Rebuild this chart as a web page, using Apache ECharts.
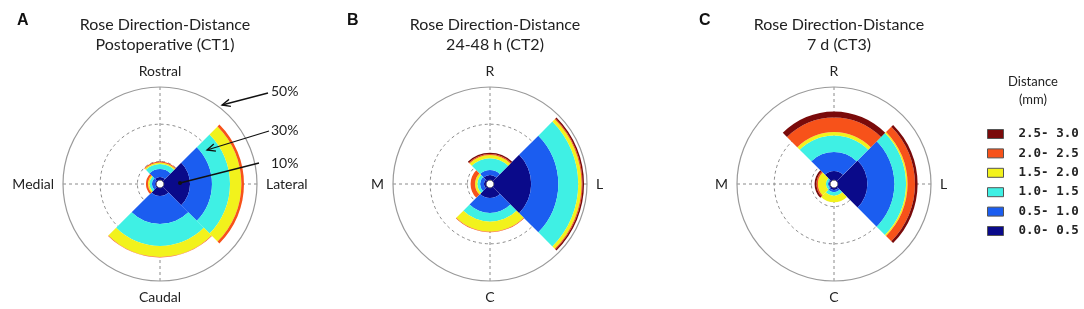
<!DOCTYPE html>
<html>
<head>
<meta charset="utf-8">
<script src="https://cdn.jsdelivr.net/npm/echarts@6/dist/echarts.min.js"></script>
<style>
  html, body { margin: 0; padding: 0; background: #fff; }
  #chart { width: 1084px; height: 309px; }
</style>
</head>
<body>
<div id="chart"></div>
<script>
// distance bins (mm), inner to outer
const bins = ['0.0- 0.5', '0.5- 1.0', '1.0- 1.5', '1.5- 2.0', '2.0- 2.5', '2.5- 3.0'];
const binColors = ['#0a0a8a', '#1b5df0', '#3ff0e4', '#f2f21c', '#f7521a', '#7a0a0a'];

// directions, clockwise from the lateral sector
const dirsLong = ['Lateral', 'Caudal', 'Medial', 'Rostral'];
const dirsShort = ['L', 'C', 'M', 'R'];

// % of contacts per bin, values in order L, C, M, R
const ct1 = [
  [14.0, 4.3, 0.5, 1.6],
  [11.8, 15.1, 1.7, 4.3],
  [9.7, 11.8, 1.3, 2.7],
  [6.1, 5.9, 0.8, 0.8],
  [1.4, 0.2, 1.1, 0.5],
  [0, 0, 0, 0]
];
const ct2 = [
  [20.0, 5.4, 1.1, 2.7],
  [14.6, 8.0, 2.1, 2.7],
  [10.7, 4.7, 1.4, 6.3],
  [1.8, 5.4, 1.3, 1.7],
  [0.5, 0.3, 2.4, 0.6],
  [0.8, 0, 0, 0.7]
];
const ct3 = [
  [15.8, 1.1, 0.5, 4.8],
  [14.5, 1.2, 0.6, 10.3],
  [6.3, 1.8, 1.1, 8.8],
  [0.8, 3.6, 4.3, 1.9],
  [4.0, 0, 0.8, 7.8],
  [1.4, 0, 1.0, 3.2]
];

const rings = ['50%', '30%', '10%'];

const panels = [
  { letter: 'A', title: 'Rose Direction-Distance\nPostoperative (CT1)', dirs: dirsLong, data: ct1, cx: 160, lx: 12 },
  { letter: 'B', title: 'Rose Direction-Distance\n24-48 h (CT2)', dirs: dirsShort, data: ct2, cx: 490, lx: 342 },
  { letter: 'C', title: 'Rose Direction-Distance\n7 d (CT3)', dirs: dirsShort, data: ct3, cx: 834, lx: 694 }
];

const cy = 184;
const R = [4, 97];
const clear = 'rgba(0,0,0,0)';
const textFont = 'Lato, "Open Sans", sans-serif';

const polar = [], angleAxis = [], radiusAxis = [], series = [], title = [];

panels.forEach(function (p, i) {
  // polar i: bars, polar i+3: grid (cross + rings)
  polar.push({ center: [p.cx, cy], radius: R });
  angleAxis.push({
    polarIndex: i,
    type: 'category',
    data: p.dirs,
    startAngle: 45,
    axisLine: { show: false },
    axisTick: { show: false },
    splitLine: { show: false },
    axisLabel: { margin: 9, color: '#222', fontSize: 14, fontFamily: textFont }
  });
  radiusAxis.push({
    polarIndex: i,
    type: 'value', min: 0, max: 50, interval: 10,
    axisLine: { show: false }, axisTick: { show: false }, axisLabel: { show: false },
    splitLine: { show: true, lineStyle: { color: ['#222', clear, clear, clear, clear, clear], width: 1 } }
  });

  p.data.forEach(function (vals, b) {
    series.push({
      type: 'bar',
      name: bins[b],
      coordinateSystem: 'polar',
      polarIndex: i,
      stack: 'rose' + i,
      barCategoryGap: '0%',
      data: vals,
      itemStyle: { color: binColors[b] },
      emphasis: { disabled: true },
      z: 2
    });
  });

  title.push({
    text: p.title, left: p.cx, top: 10, textAlign: 'center',
    textStyle: { fontFamily: textFont, fontSize: 16, fontWeight: 'normal', color: '#222', lineHeight: 20 }
  });
  title.push({
    text: p.letter, left: p.lx, top: 8,
    textStyle: { fontFamily: 'Liberation Sans, Arial, sans-serif', fontSize: 16, fontWeight: 'bold', color: '#111' }
  });
});

panels.forEach(function (p, i) {
  polar.push({ center: [p.cx, cy], radius: R });
  angleAxis.push({
    polarIndex: i + 3,
    type: 'value', min: 0, max: 360, interval: 90, startAngle: 0,
    axisLine: { show: true, lineStyle: { color: '#9a9a9a', width: 1.2 } },
    axisTick: { show: false }, axisLabel: { show: false },
    splitLine: { show: true, lineStyle: { color: '#8a8a8a', type: [3, 3], width: 1 } },
    z: 1
  });
  radiusAxis.push({
    polarIndex: i + 3,
    type: 'value', min: 0, max: 50, interval: 10,
    axisLine: { show: false }, axisTick: { show: false }, axisLabel: { show: false },
    splitLine: { show: true, lineStyle: { color: [clear, '#8a8a8a', clear, '#8a8a8a', clear, clear], type: [3, 3], width: 1 } },
    z: 1
  });
});

title.push({
  text: 'Distance\n(mm)', left: 1028, top: 68, textAlign: 'center',
  textStyle: { fontFamily: textFont, fontSize: 13, fontWeight: 'normal', color: '#222', lineHeight: 18 }
});

// arrow annotations on panel A
function arrowHead(tip, tail) {
  const a = Math.atan2(tail[1] - tip[1], tail[0] - tip[0]);
  const L = 9, s = 0.42;
  return [
    [tip[0] + L * Math.cos(a + s), tip[1] + L * Math.sin(a + s)],
    tip,
    [tip[0] + L * Math.cos(a - s), tip[1] + L * Math.sin(a - s)]
  ];
}
const annot = [
  { tail: [268, 93], tip: [222, 105], ty: 91 },
  { tail: [269, 131], tip: [207, 150], ty: 130 },
  { tail: [259, 163], tip: [180, 183], ty: 163 }
];
const graphic = [];
annot.forEach(function (a, k) {
  graphic.push({ type: 'polyline', shape: { points: [a.tail, a.tip] }, style: { stroke: '#111', lineWidth: 1.3, fill: null }, z: 10 });
  if (k < 2) {
    graphic.push({ type: 'polyline', shape: { points: arrowHead(a.tip, a.tail) }, style: { stroke: '#111', lineWidth: 1.3, fill: null }, z: 10 });
  } else {
    graphic.push({ type: 'circle', shape: { cx: a.tip[0], cy: a.tip[1], r: 2 }, style: { fill: '#111' }, z: 10 });
  }
  graphic.push({
    type: 'text', x: 271, y: a.ty, z: 10,
    style: { text: rings[k], font: '14px ' + textFont, fill: '#222', verticalAlign: 'middle' }
  });
});

const chart = echarts.init(document.getElementById('chart'), null, { renderer: 'canvas' });
chart.setOption({
  animation: false,
  backgroundColor: '#fff',
  title: title,
  polar: polar,
  angleAxis: angleAxis,
  radiusAxis: radiusAxis,
  legend: {
    data: bins.slice().reverse(),
    orient: 'vertical',
    left: 982, top: 122,
    itemWidth: 16, itemHeight: 9,
    itemGap: 5.4,
    icon: 'rect',
    selectedMode: false,
    itemStyle: { borderColor: '#555', borderWidth: 1 },
    textStyle: {
      fontFamily: '"DejaVu Sans Mono", "Liberation Mono", monospace',
      fontSize: 12.5, fontWeight: 'bold', color: '#222', lineHeight: 14,
      padding: [0, 0, 0, 10]
    }
  },
  graphic: graphic,
  series: series
});
</script>
</body>
</html>
